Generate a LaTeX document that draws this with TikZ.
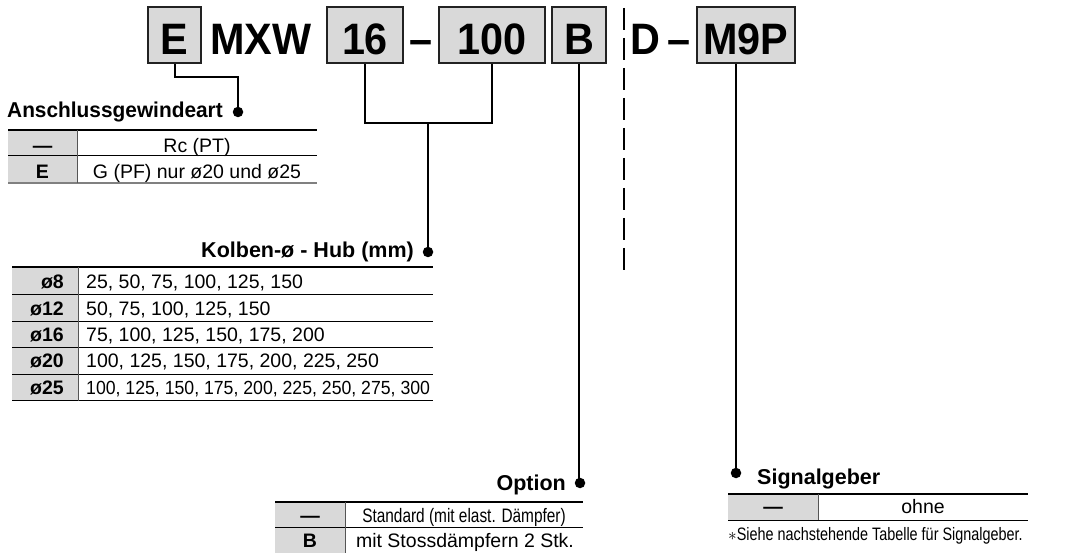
\documentclass[tikz,border=0pt]{standalone}
\usepackage{fontspec}
\setmainfont{Liberation Sans}
\newfontfamily\hdrfont[FakeStretch=0.94]{Liberation Sans}
\newfontfamily\condfont[FakeStretch=0.79]{Liberation Sans}
\newfontfamily\footfont[FakeStretch=0.8]{Liberation Sans}
\newfontfamily\lastfont[FakeStretch=0.93]{Liberation Sans}
\newfontfamily\ttlfont[FakeStretch=0.97]{Liberation Sans}
\definecolor{cellgray}{HTML}{D9D9D9}
\definecolor{boxedge}{HTML}{222222}
\definecolor{divgray}{HTML}{555555}
\tikzset{
  hbox/.style={draw=boxedge, line width=1.8pt, fill=cellgray, inner sep=0pt,
    minimum height=56pt, text height=40pt, text depth=0pt,
    font=\hdrfont\bfseries\fontsize{44}{50}\selectfont},
  htext/.style={inner sep=0pt, anchor=base, font=\hdrfont\bfseries\fontsize{44}{50}\selectfont},
  conn/.style={line width=2pt, black},
  dot/.style={circle, fill=black, inner sep=0pt, minimum size=10.5pt},
  ttl/.style={inner sep=0pt, font=\bfseries\fontsize{21.5}{24}\selectfont},
  cell/.style={inner sep=0pt, anchor=base, font=\fontsize{19.5}{22}\selectfont},
  cellb/.style={inner sep=0pt, anchor=base, font=\bfseries\fontsize{19.5}{22}\selectfont},
  toprule/.style={line width=2pt, black},
  midrule/.style={line width=1pt, black},
  graybottom/.style={line width=1.5pt, gray},
  divider/.style={line width=1pt, divgray},
  grayfill/.style={fill=cellgray, draw=none}
}
\begin{document}
\begin{tikzpicture}[x=1pt,y=-1pt]
\useasboundingbox (0,0) rectangle (1085,553);

% ---------- header ----------
\node[hbox, minimum width=53pt] (bE) at (174.5,35) {E};
\node[htext, anchor=base west] (tMXW) at (210,55) {MXW};
\node[hbox, minimum width=76pt] (b16) at (365,35) {16};
\node[htext] (d1) at (420.5,55) {\textendash};
\node[hbox, minimum width=106pt] (b100) at (492,35) {100};
\node[hbox, minimum width=54pt] (bB) at (579,35) {B};
\coordinate (dashtop) at (624,8);
\coordinate (dashbot) at (624,274);
\draw[line width=2pt, dash pattern=on 22.5pt off 7.5pt] (dashtop) -- (dashbot);
\node[htext, anchor=base west] (tD) at (630,55) {D};
\node[htext] (d2) at (678.5,55) {\textendash};
\node[hbox, minimum width=98pt] (bM) at (746,35) {M9P};

% ---------- Anschlussgewindeart ----------
\node[dot] (dA) at (238,112) {};
\coordinate (jA) at (238,77);
\draw[conn] (bE.south) |- (jA) -- (dA);
\node[ttl, anchor=base west, font=\ttlfont\bfseries\fontsize{21.5}{24}\selectfont] (tA) at (7,118) {Anschlussgewindeart};
\fill[grayfill] (8,130) rectangle (77,183);
\draw[toprule] (8,130) -- (317,130);
\draw[midrule] (8,156) -- (317,156);
\draw[graybottom] (8,183) -- (317,183);
\draw[divider] (77,130) -- (77,183);
\node[cellb] (a1k) at (42.5,153) {—};
\node[cellb] (a2k) at (42.5,179) {E};
\node[cell] (a1v) at (197,153) {Rc (PT)};
\node[cell] (a2v) at (197,179) {G (PF) nur ø20 und ø25};

% ---------- Kolben ----------
\node[dot] (dK) at (428,252) {};
\coordinate (jK) at (428,123);
\draw[conn] (b16.south) |- (b100.south |- jK) -- (b100.south);
\draw[conn] (jK) -- (dK);
\node[ttl, anchor=base east] (tK) at (414,258) {Kolben-ø - Hub (mm)};
\fill[grayfill] (12,267) rectangle (78,401);
\draw[toprule] (12,267) -- (433,267);
\foreach \yy in {295,322,348,375} { \draw[midrule] (12,\yy) -- (433,\yy); }
\draw[midrule] (12,401) -- (433,401);
\draw[divider] (78,267) -- (78,401);
\node[cellb, anchor=base east] (k1k) at (64,289) {ø8};
\node[cellb, anchor=base east] (k2k) at (64,316) {ø12};
\node[cellb, anchor=base east] (k3k) at (64,342) {ø16};
\node[cellb, anchor=base east] (k4k) at (64,368) {ø20};
\node[cellb, anchor=base east] (k5k) at (64,395) {ø25};
\node[cell, anchor=base west] (k1v) at (86,289) {25, 50, 75, 100, 125, 150};
\node[cell, anchor=base west] (k2v) at (86,316) {50, 75, 100, 125, 150};
\node[cell, anchor=base west] (k3v) at (86,342) {75, 100, 125, 150, 175, 200};
\node[cell, anchor=base west] (k4v) at (86,368) {100, 125, 150, 175, 200, 225, 250};
\node[cell, anchor=base west, font=\lastfont\fontsize{19}{22}\selectfont] (k5v) at (86,395) {100, 125, 150, 175, 200, 225, 250, 275, 300};

% ---------- Option ----------
\node[dot] (dO) at (580,483) {};
\draw[conn] (bB.south) -- (bB.south |- dO) -- (dO);
\node[ttl, anchor=base east] (tO) at (566,490) {Option};
\fill[grayfill] (275,502) rectangle (345,553);
\draw[toprule] (275,502) -- (583,502);
\draw[midrule] (275,527) -- (583,527);
\draw[divider] (345,502) -- (345,553);
\node[cellb] (o1k) at (310,522) {—};
\node[cellb] (o2k) at (310,547) {B};
\node[cell, font=\condfont\fontsize{19.5}{22}\selectfont] (o1v) at (464,522) {Standard (mit elast. Dämpfer)};
\node[cell] (o2v) at (465,547) {mit Stossdämpfern 2 Stk.};

% ---------- Signalgeber ----------
\node[dot] (dS) at (736,473) {};
\draw[conn] (dS |- bM.south) -- (dS);
\node[ttl, anchor=base west] (tS) at (757,484) {Signalgeber};
\fill[grayfill] (728,494) rectangle (818,520);
\draw[toprule] (728,494) -- (1028,494);
\draw[midrule] (728,520) -- (1028,520);
\draw[divider] (818,494) -- (818,520);
\node[cellb] (s1k) at (773,513) {—};
\node[cell] (s1v) at (923,513) {ohne};
\node[cell, anchor=base west, font=\footfont\fontsize{18}{20}\selectfont] (sfn) at (728,540) {$\ast$Siehe nachstehende Tabelle für Signalgeber.};
\end{tikzpicture}
\end{document}
